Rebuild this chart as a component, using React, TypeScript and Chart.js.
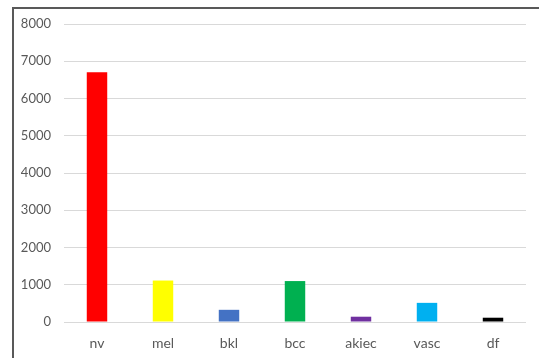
import React, { useEffect, useRef } from "react";
import { Chart, registerables } from "chart.js";

Chart.register(...registerables);

const categories = ["nv", "mel", "bkl", "bcc", "akiec", "vasc", "df"];
const counts = [6705, 1113, 327, 1099, 142, 514, 115];
const barColors = ["#ff0000", "#ffff00", "#4472c4", "#00b050", "#7030a0", "#00b0f0", "#000000"];
const yTicks = [0, 1000, 2000, 3000, 4000, 5000, 6000, 7000, 8000];

export default function App() {
  const ref = useRef<HTMLCanvasElement>(null);
  useEffect(() => {
    document.body.style.margin = "0";
    const ctx = ref.current!;
    const chart = new Chart(ctx, {
      type: "bar",
      data: {
        labels: categories,
        datasets: [
          {
            data: counts,
            backgroundColor: barColors,
            borderWidth: 0,
            categoryPercentage: 1,
            barPercentage: 0.31,
          },
        ],
      },
      options: {
        animation: false,
        responsive: false,
        maintainAspectRatio: false,
        layout: { padding: { left: 14, right: 13, top: 24, bottom: 0 } },
        plugins: { legend: { display: false }, tooltip: { enabled: false } },
        scales: {
          x: {
            grid: { display: false },
            border: { display: false },
            ticks: {
              color: "#595959",
              font: { family: "Lato", size: 14 },
              padding: 5,
              maxRotation: 0,
            },
            afterFit: (s: any) => {
              s.height = 36;
            },
          },
          y: {
            min: 0,
            max: 8000,
            afterBuildTicks: (s: any) => {
              s.ticks = yTicks.map((v) => ({ value: v }));
            },
            grid: { color: "#d9d9d9", lineWidth: 1, drawTicks: false },
            border: { display: false },
            ticks: {
              color: "#595959",
              font: { family: "Lato", size: 13 },
              padding: 13,
              callback: (v: any) => String(v),
            },
            afterFit: (s: any) => {
              s.width = 50;
            },
          },
        },
      },
    });
    return () => chart.destroy();
  }, []);
  return (
    <div style={{ position: "fixed", left: 0, top: 0, width: 539, height: 358, background: "#fff" }}>
      <canvas ref={ref} width={539} height={358} style={{ position: "absolute", left: 0, top: 0 }} />
      <div
        style={{
          position: "absolute",
          left: 12,
          top: 7,
          right: 0,
          bottom: 0,
          borderLeft: "2px solid #595959",
          borderTop: "2px solid #595959",
          pointerEvents: "none",
        }}
      />
    </div>
  );
}
